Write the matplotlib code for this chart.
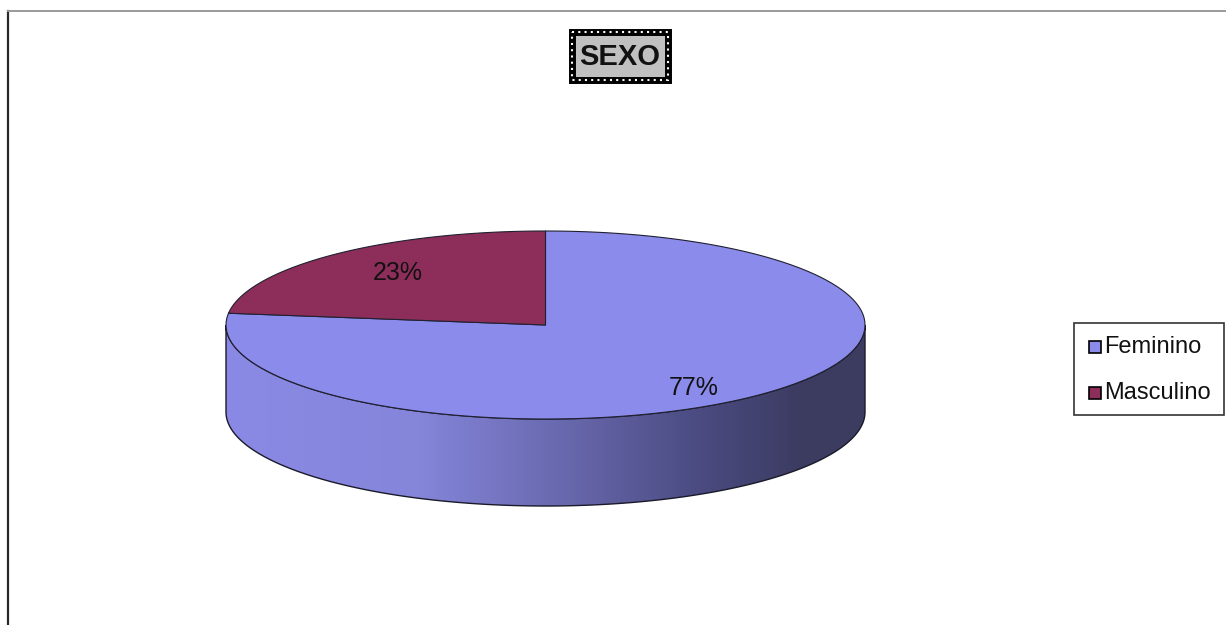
"""Gráfico de pizza 3D: distribuição por sexo."""

import matplotlib

matplotlib.use("Agg")
import matplotlib.pyplot as plt
import numpy as np
from matplotlib.colors import LinearSegmentedColormap
from matplotlib.patches import Polygon, Rectangle

plt.rcParams["font.family"] = ["Liberation Sans", "DejaVu Sans"]

titulo = "SEXO"
categorias = ["Feminino", "Masculino"]
valores = [77, 23]
cores_topo = ["#8b8bec", "#8c2d5a"]

# geometria do disco (pixels)
CX, CY = 545.5, 325.0
RX, RY = 319.5, 94.0
PROF = 87.0


def ponto(t, dy=0.0):
    return CX + RX * np.cos(t), CY - RY * np.sin(t) + dy


def main() -> None:
    fig = plt.figure(figsize=(12.26, 6.25), dpi=100)
    ax = fig.add_axes([0, 0, 1, 1])
    ax.set_xlim(0, 1226)
    ax.set_ylim(625, 0)
    ax.axis("off")

    # moldura
    ax.plot([8, 8], [11, 625], color="#2a2a2a", lw=1.6)
    ax.plot([8, 1226], [11, 11], color="#9a9a9a", lw=1.4)

    # lateral com degradê (metade da frente)
    t = np.linspace(np.pi, 2 * np.pi, 200)
    xs, ys = ponto(t)
    lado = np.column_stack([np.r_[xs, xs[::-1]], np.r_[ys, ys[::-1] + PROF]])
    poly = Polygon(lado, closed=True, facecolor="none", edgecolor="#1a1a2a", lw=1.0, zorder=3)
    ax.add_patch(poly)
    cmap = LinearSegmentedColormap.from_list(
        "lado",
        [(0.0, "#8a8ae6"), (0.3, "#8585da"), (0.5, "#6c6cb4"),
         (0.75, "#4a4a80"), (0.9, "#3c3c62"), (1.0, "#3c3c60")],
    )
    grad = np.linspace(0, 1, 256).reshape(1, -1)
    img = ax.imshow(grad, cmap=cmap, aspect="auto",
                    extent=(CX - RX, CX + RX, CY + PROF + RY, CY - RY), zorder=2)
    img.set_clip_path(poly)

    # topo: fatias
    total = sum(valores)
    ini = np.pi / 2
    angulos = []
    # Feminino no sentido horário a partir das 12h, Masculino no anti-horário
    for i, v in enumerate(valores):
        span = 2 * np.pi * v / total
        if i == 0:
            a0, a1 = ini - span, ini
        else:
            a0, a1 = ini, ini + span
        angulos.append((a0, a1))
        tt = np.linspace(a0, a1, 200)
        px, py = ponto(tt)
        pts = np.column_stack([np.r_[CX, px], np.r_[CY, py]])
        ax.add_patch(Polygon(pts, closed=True, facecolor=cores_topo[i],
                             edgecolor="#202030", lw=0.8, zorder=4))

    # rótulos percentuais
    for (a0, a1), v in zip(angulos, valores):
        am = (a0 + a1) / 2
        lx = CX + 0.7 * RX * np.cos(am)
        ly = CY - 0.7 * RY * np.sin(am) + (14 if np.sin(am) < 0 else -3)
        ax.text(lx, ly, f"{v}%", ha="center", va="center", fontsize=18,
                color="#111111", zorder=5)

    # título com moldura pontilhada
    ax.add_patch(Rectangle((572, 32), 96, 48, facecolor="#c0c0c0",
                           edgecolor="black", lw=5, zorder=5))
    ax.add_patch(Rectangle((572, 32), 96, 48, facecolor="none",
                           edgecolor="white", lw=1.5, ls=(0, (1, 2)), zorder=6))
    ax.text(620, 57, titulo, ha="center", va="center", fontsize=21,
            fontweight="bold", color="#111111", zorder=7)

    # legenda
    ax.add_patch(Rectangle((1074, 323), 150, 92, facecolor="white",
                           edgecolor="#333333", lw=1.2, zorder=5))
    for i, (nome, cor) in enumerate(zip(categorias, cores_topo)):
        y = 347 + i * 46
        ax.add_patch(Rectangle((1089, y - 6), 12, 12, facecolor=cor,
                               edgecolor="black", lw=1.2, zorder=6))
        ax.text(1104, y, nome, ha="left", va="center", fontsize=17,
                color="#111111", zorder=6)

    fig.savefig("out.png", dpi=100)


if __name__ == "__main__":
    main()
